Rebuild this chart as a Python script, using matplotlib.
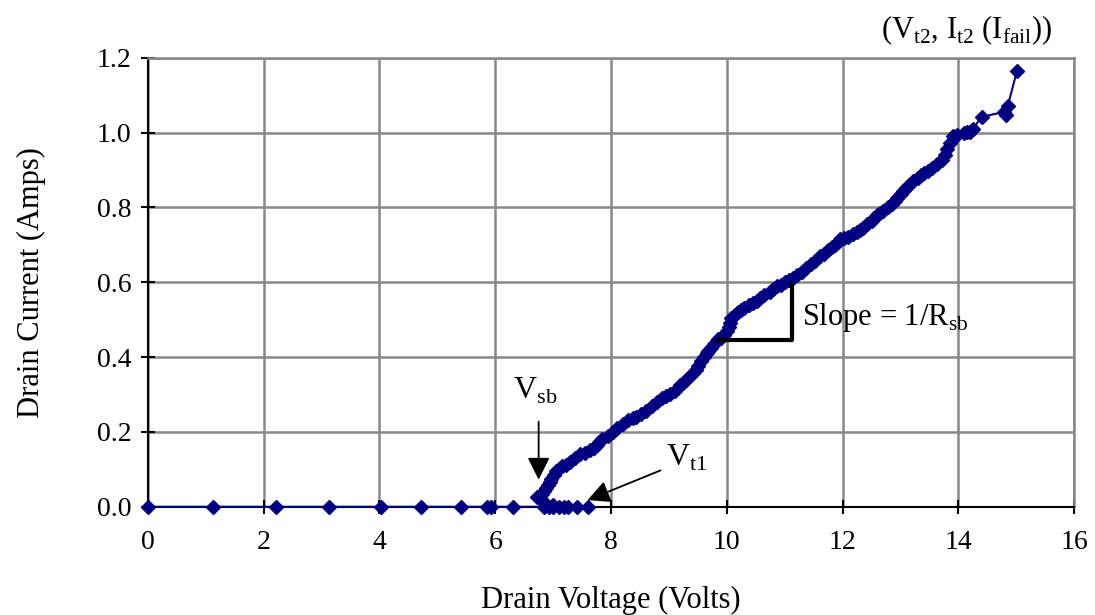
import matplotlib
matplotlib.use("Agg")
import matplotlib.pyplot as plt

plt.rcParams['font.family'] = ['Liberation Serif', 'DejaVu Serif']

# drain voltage (V) and drain current (A), in measurement order
voltage = [0, 1.12, 2.22, 3.13, 4.02, 4.72, 5.41, 5.86, 5.92, 6.31,
           6.85, 6.93, 7.0, 7.1, 7.18, 7.25, 7.42, 7.6,
           7.0, 6.85, 6.72, 6.8, 6.84, 6.88, 6.92, 6.95, 6.97, 7.02, 7.05, 7.1,
           7.15, 7.22, 7.3, 7.38, 7.46, 7.55, 7.64,
           7.7, 7.75, 7.8, 7.85, 7.95, 8.03, 8.1, 8.2, 8.3, 8.38, 8.44, 8.52,
           8.6, 8.7, 8.79, 8.88, 8.95, 9.02, 9.1, 9.19, 9.25, 9.3, 9.36, 9.42,
           9.46, 9.5, 9.55, 9.6, 9.65, 9.68, 9.73, 9.78, 9.85, 9.9, 9.95, 10.0,
           10.03, 10.06, 10.08, 10.14, 10.2, 10.25, 10.3, 10.38, 10.45, 10.52,
           10.57, 10.65, 10.75, 10.8, 10.86, 10.93, 11.0, 11.08, 11.15, 11.22,
           11.3, 11.37, 11.45, 11.52, 11.61, 11.68, 11.75, 11.82, 11.87, 11.92,
           11.96, 12.03, 12.1, 12.18, 12.25, 12.3, 12.36, 12.42, 12.5, 12.55,
           12.6, 12.65, 12.7, 12.78, 12.85, 12.9, 12.94, 13.0, 13.05, 13.1,
           13.14, 13.22, 13.3, 13.35, 13.4, 13.48, 13.55, 13.63, 13.71, 13.76,
           13.8, 13.86, 13.91, 13.98, 14.1, 14.15, 14.2, 14.25, 14.4, 14.78,
           14.82, 14.85, 15.01]
current = [0, 0, 0, 0, 0, 0, 0, 0, 0, 0,
           0, 0, 0, 0, 0, 0, 0, 0,
           0.005, 0.012, 0.025, 0.035, 0.042, 0.05, 0.058, 0.065, 0.075, 0.085, 0.095, 0.1,
           0.108, 0.112, 0.12, 0.13, 0.14, 0.145, 0.152,
           0.158, 0.165, 0.172, 0.18, 0.19, 0.2, 0.21, 0.222, 0.232, 0.238, 0.241, 0.248,
           0.255, 0.268, 0.28, 0.29, 0.295, 0.302, 0.31, 0.326, 0.332, 0.34, 0.35, 0.358,
           0.366, 0.375, 0.39, 0.4, 0.41, 0.415, 0.425, 0.435, 0.448, 0.452, 0.46, 0.47,
           0.48, 0.492, 0.505, 0.512, 0.52, 0.526, 0.532, 0.538, 0.545, 0.55,
           0.558, 0.566, 0.575, 0.582, 0.589, 0.594, 0.6, 0.606, 0.612, 0.62,
           0.628, 0.638, 0.648, 0.658, 0.669, 0.676, 0.685, 0.694, 0.70, 0.708,
           0.716, 0.719, 0.722, 0.728, 0.735, 0.74, 0.745, 0.755, 0.765, 0.772,
           0.78, 0.785, 0.79, 0.8, 0.81, 0.818, 0.825, 0.835, 0.845, 0.853,
           0.861, 0.871, 0.88, 0.886, 0.892, 0.898, 0.905, 0.915, 0.928, 0.94,
           0.955, 0.972, 0.99, 0.993, 1.0, 1.003, 1.003, 1.01, 1.042, 1.055,
           1.048, 1.07, 1.164]

x_ticks = [0, 2, 4, 6, 8, 10, 12, 14, 16]
y_ticks = [0.0, 0.2, 0.4, 0.6, 0.8, 1.0, 1.2]

# slope triangle corners (V, A)
slope_x = [9.83, 11.13, 11.13]
slope_y = [0.447, 0.447, 0.594]

fig = plt.figure(figsize=(10.95, 6.15), dpi=100)
ax = fig.add_axes([0.135, 0.176, 0.846, 0.730])

ax.plot(voltage, current, color='#000080', lw=1.5, marker='D',
        markersize=7, zorder=3, clip_on=False)

ax.set_xlim(0, 16)
ax.set_ylim(0, 1.2)
ax.set_xticks(x_ticks)
ax.set_yticks(y_ticks)
ax.set_yticklabels([f'{v:.1f}' for v in y_ticks])
ax.tick_params(direction='inout', length=10, width=1.5, labelsize=20)
ax.tick_params(axis='x', pad=12)
ax.tick_params(axis='y', pad=7)
ax.grid(True, color='#888888', lw=1.8)
ax.set_axisbelow(True)
for side in ['top', 'right']:
  ax.spines[side].set_color('#888888')
  ax.spines[side].set_linewidth(1.8)
for side in ['left', 'bottom']:
  ax.spines[side].set_linewidth(1.5)

ax.set_xlabel('Drain Voltage (Volts)', fontsize=22, labelpad=22)
ax.set_ylabel('Drain Current (Amps)', fontsize=22, labelpad=36)

ax.plot(slope_x, slope_y, color='black', lw=3, zorder=4)
ax.text(11.3, 0.505, 'Slope = 1/R$_{\\mathregular{sb}}$', fontsize=22, va='center')

arrow = dict(arrowstyle='-|>', color='black', lw=1.3, mutation_scale=34)
ax.annotate('', xy=(6.75, 0.065), xytext=(6.75, 0.235), arrowprops=arrow)
ax.text(6.3, 0.31, 'V$_{\\mathregular{sb}}$', fontsize=23, va='center')
ax.annotate('', xy=(7.55, 0.015), xytext=(8.9, 0.1), arrowprops=arrow)
ax.text(8.95, 0.13, 'V$_{\\mathregular{t1}}$', fontsize=23, va='center')
ax.text(14.15, 1.275, '(V$_{\\mathregular{t2}}$, I$_{\\mathregular{t2}}$ (I$_{\\mathregular{fail}}$))',
        fontsize=22, ha='center', va='center')

fig.savefig('out.png', dpi=100)
